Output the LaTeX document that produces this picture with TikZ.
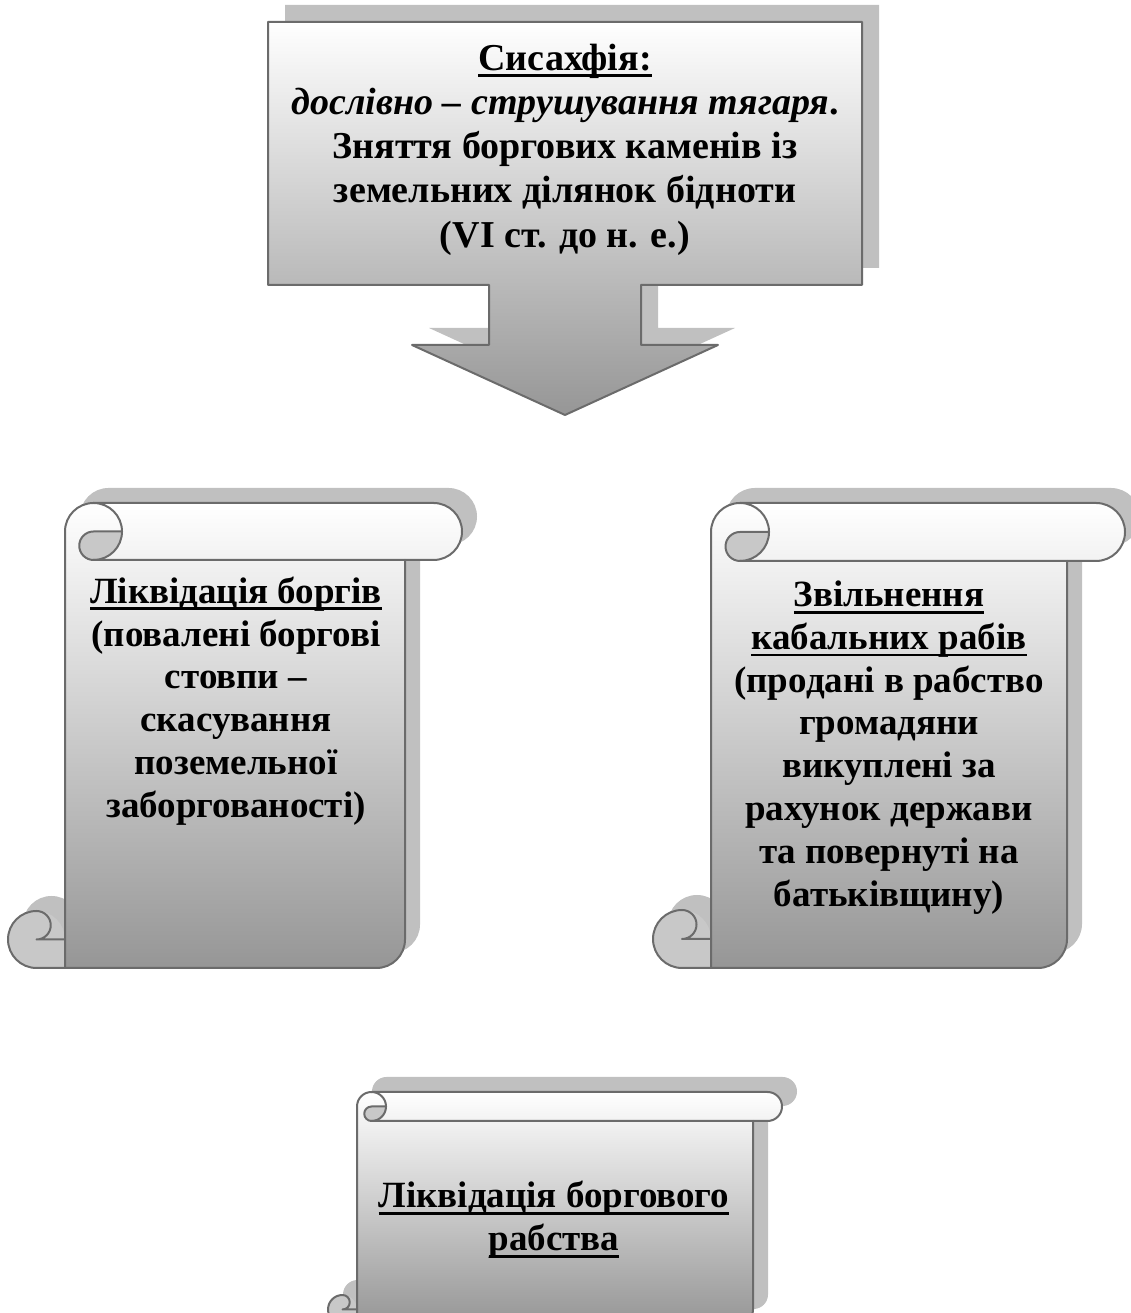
\documentclass[tikz,border=0pt]{standalone}
\usepackage{fontspec}
\setmainfont{Liberation Serif}
\definecolor{edgec}{HTML}{6B6B6B}
\definecolor{shadowc}{HTML}{C0C0C0}
\definecolor{curlc}{HTML}{C8C8C8}
\definecolor{lowc}{HTML}{969696}
\newsavebox\ulbox
\newcommand\myul[1]{\sbox\ulbox{#1}\rlap{\rule[-7pt]{\wd\ulbox}{2.8pt}}\usebox\ulbox}
\tikzset{
  edgeline/.style={draw=edgec,line width=2pt,line join=round,line cap=round},
  scrolltext/.style={align=center,inner sep=0pt,font={\fontsize{37}{42.8}\selectfont\bfseries}},
  boxtext/.style={align=center,inner sep=0pt,font={\fontsize{38}{44.2}\selectfont\bfseries}},
}
\newcommand\drawscroll[5]{%
 \pgfmathsetmacro\scL{#1}\pgfmathsetmacro\scT{#2}\pgfmathsetmacro\scR{#3}\pgfmathsetmacro\scB{#4}%
 \pgfmathsetmacro\scC{#5}\pgfmathsetmacro\scH{#5/2}\pgfmathsetmacro\scQ{#5/4}%
 \begin{scope}[shift={(15,15)}]
  \fill[shadowc] ({\scL+\scC},\scB) -- ({\scR-\scC-\scH},\scB) arc[start angle=-90,end angle=0,radius=\scH] -- ({\scR-\scC},{\scT-\scC}) -- ({\scR-\scH},{\scT-\scC}) arc[start angle=-90,end angle=90,radius=\scH] -- ({\scL+\scC+\scH},\scT) arc[start angle=90,end angle=180,radius=\scH] -- cycle;
  \fill[shadowc] ({\scL+\scH},{\scB+\scH}) circle[radius=\scH];
  \fill[shadowc] ({\scL+\scH},\scB) rectangle ({\scL+\scC},{\scB+\scH});
 \end{scope}
 \shade[top color=white,bottom color=lowc] ({\scL+\scC},\scB) -- ({\scR-\scC-\scH},\scB) arc[start angle=-90,end angle=0,radius=\scH] -- ({\scR-\scC},{\scT-\scC}) -- ({\scR-\scH},{\scT-\scC}) arc[start angle=-90,end angle=90,radius=\scH] -- ({\scL+\scC+\scH},\scT) arc[start angle=90,end angle=180,radius=\scH] -- cycle;
 \fill[curlc] ({\scL+\scH},{\scB+\scH}) circle[radius=\scH];
 \fill[curlc] ({\scL+\scH},\scB) rectangle ({\scL+\scC},{\scB+\scH});
 \fill[curlc] ({\scL+\scC+\scH},{\scT-\scH}) -- ({\scL+2*\scC},{\scT-\scH}) arc[start angle=0,end angle=-90,radius=\scH] arc[start angle=270,end angle=90,radius=\scQ] -- cycle;
 \draw[edgeline] ({\scL+\scC+\scH},{\scT-\scC}) -- ({\scR-\scH},{\scT-\scC}) arc[start angle=-90,end angle=90,radius=\scH] -- ({\scL+\scC+\scH},\scT) arc[start angle=90,end angle=180,radius=\scH] -- ({\scL+\scC},\scB);
 \draw[edgeline] ({\scL+\scC},{\scB+\scH}) -- ({\scL+\scH},{\scB+\scH}) arc[start angle=-90,end angle=90,radius=\scQ] arc[start angle=90,end angle=270,radius=\scH] -- ({\scR-\scC-\scH},\scB) arc[start angle=-90,end angle=0,radius=\scH] -- ({\scR-\scC},{\scT-\scC});
 \draw[edgeline] ({\scL+\scC+\scH},\scT) arc[start angle=90,end angle=-90,radius=\scH];
 \draw[edgeline] ({\scL+2*\scC},{\scT-\scH}) -- ({\scL+\scC+\scH},{\scT-\scH}) arc[start angle=90,end angle=270,radius=\scQ];
}
\begin{document}
\begin{tikzpicture}[x=1pt,y=1pt]
\useasboundingbox (0,0) rectangle (1131,1313);
\clip (0,0) rectangle (1131,1313);
% top callout
\begin{scope}[shift={(17,17)}]
\fill[shadowc] (268,1291) -- (862,1291) -- (862,1028) -- (641,1028) -- (641,968) -- (718,968) -- (565,898) -- (412,968) -- (489,968) -- (489,1028) -- (268,1028) -- cycle;
\end{scope}
\shade[top color=white,bottom color=lowc] (268,1291) -- (862,1291) -- (862,1028) -- (641,1028) -- (641,968) -- (718,968) -- (565,898) -- (412,968) -- (489,968) -- (489,1028) -- (268,1028) -- cycle;
\draw[edgeline] (268,1291) -- (862,1291) -- (862,1028) -- (641,1028) -- (641,968) -- (718,968) -- (565,898) -- (412,968) -- (489,968) -- (489,1028) -- (268,1028) -- cycle;
\node[boxtext] (sisax) at (565,1163.5) {\myul{Сисахфія:}\\ \textit{дослівно – струшування тягаря}.\\ Зняття боргових каменів із\\ земельних ділянок бідноти\\ (VI ст. до н. е.)};
% scrolls
\drawscroll{8}{810}{462}{345}{57}
\drawscroll{653}{810}{1125}{345}{58}
\drawscroll{328}{221}{782}{-11}{29}
\node[scrolltext] (debts) at (236,612) {\myul{Ліквідація боргів}\\ (повалені боргові\\ стовпи –\\ скасування\\ поземельної\\ заборгованості)};
\node[scrolltext] (slaves) at (889,565.5) {\myul{Звільнення}\\ \myul{кабальних рабів}\\ (продані в рабство\\ громадяни\\ викуплені за\\ рахунок держави\\ та повернуті на\\ батьківщину)};
\node[scrolltext] (bondage) at (554,93) {\myul{Ліквідація боргового}\\ \myul{рабства}};
\end{tikzpicture}
\end{document}
